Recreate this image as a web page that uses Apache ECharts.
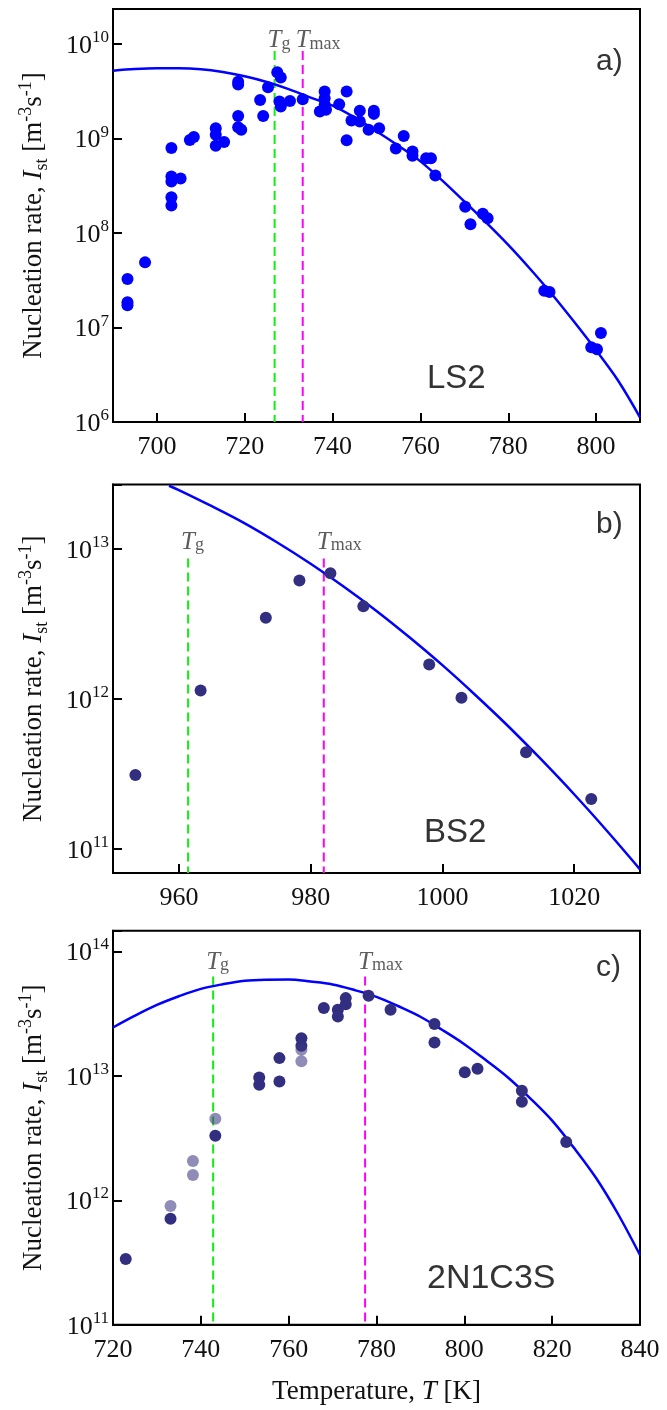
<!DOCTYPE html>
<html>
<head>
<meta charset="utf-8">
<script src="https://cdn.jsdelivr.net/npm/echarts@6/dist/echarts.min.js"></script>
<style>
html,body{margin:0;padding:0;background:#fff;}
#c{width:667px;height:1410px;}
</style>
</head>
<body>
<div id="c"></div>
<script>
// ---------- DATA ----------
// Panel a) LS2 : [T (K), I_st (m^-3 s^-1)]
const lsPoints = [
  [693.3,3.26e7],[693.3,1.85e7],[693.3,1.72e7],[697.3,4.9e7],
  [703.3,2.4e8],[703.3,1.96e8],[703.3,3.97e8],[703.3,3.52e8],[705.4,3.78e8],[703.3,7.95e8],
  [707.5,9.7e8],[708.4,1.04e9],[713.4,1.29e9],[713.4,1.1e9],[715.3,9.2e8],[713.4,8.4e8],
  [718.5,1.74e9],[718.5,1.32e9],[719.2,1.24e9],[718.5,3.75e9],[718.5,4.0e9],
  [723.5,2.57e9],[724.2,1.74e9],[725.3,3.51e9],[727.4,5.06e9],[728.2,4.43e9],
  [727.9,2.47e9],[728.2,2.19e9],[730.3,2.51e9],[733.2,2.62e9],
  [738.2,3.15e9],[738.2,2.68e9],[738.2,2.28e9],[737.1,1.94e9],[738.5,2.02e9],
  [741.5,2.32e9],[743.2,3.15e9],[743.2,9.6e8],[744.3,1.56e9],[746.2,1.98e9],[746.2,1.52e9],
  [748.2,1.24e9],[749.4,1.98e9],[749.4,1.83e9],[750.6,1.29e9],[754.4,7.85e8],[756.2,1.07e9],
  [758.2,7.3e8],[758.2,6.6e8],[761.3,6.2e8],[762.4,6.2e8],[763.4,4.07e8],
  [770.2,1.9e8],[771.4,1.24e8],[774.2,1.6e8],[775.3,1.44e8],
  [788.2,2.45e7],[789.4,2.38e7],[801.1,8.75e6],[798.9,6.2e6],[800.2,5.9e6]
];
const lsCurve = [
  [690,5.25e9],[695,5.46e9],[700,5.56e9],[705,5.56e9],[710,5.43e9],[715,5.07e9],
  [720,4.57e9],[725,3.98e9],[730,3.35e9],[735,2.72e9],[740,2.24e9],[745,1.68e9],
  [750,1.2e9],[755,8.41e8],[760,5.75e8],[765,3.59e8],[770,2.16e8],[775,1.29e8],
  [780,7.5e7],[785,4.17e7],[790,2.24e7],[795,1.15e7],[800,5.75e6],[805,2.75e6],[810,1.12e6]
];
const lsTg = 726.8, lsTmax = 733.2, lsMarkTop = 8.5e9;

// Panel b) BS2
const bsPoints = [
  [953.4,3.11e11],[963.3,1.135e12],[973.2,3.47e12],[978.3,6.15e12],[983,6.87e12],
  [988,4.14e12],[998,1.69e12],[1002.9,1.016e12],[1012.7,4.4e11],[1022.6,2.15e11]
];
const bsCurve = [
  [958.5,2.63e13],[960,2.46e13],[965,1.92e13],[970,1.476e13],[975,1.096e13],[980,7.94e12],
  [985,5.6e12],[990,3.85e12],[995,2.57e12],[1000,1.675e12],[1005,1.06e12],[1010,6.56e11],
  [1015,3.94e11],[1020,2.31e11],[1025,1.315e11],[1030,7.3e10]
];
const bsTg = 961.4, bsTmax = 982.0, bsMarkTop = 8.6e12;

// Panel c) 2N1C3S
const ncPoints = [
  [722.9,3.37e11],[733.1,7.1e11],[743.3,3.3e12],[753.3,9.7e12],[753.3,8.5e12],
  [757.9,1.39e13],[757.9,9.0e12],[762.9,2.01e13],[762.9,1.75e13],[768,3.51e13],
  [771.2,3.4e13],[771.2,3.0e13],[773,4.22e13],[773,3.77e13],[778.2,4.4e13],[783.2,3.4e13],
  [793.2,2.61e13],[793.2,1.86e13],[800.1,1.07e13],[803,1.14e13],[813.1,7.6e12],[813.1,6.2e12],
  [823.2,2.94e12]
];
const ncPointsLight = [
  [733.1,9.0e11],[738.2,2.07e12],[738.2,1.6e12],[743.3,4.52e12],[762.9,1.62e13],[762.9,1.31e13]
];
const ncCurve = [
  [720,2.45e13],[725,3.05e13],[730,3.72e13],[735,4.37e13],[740,5.01e13],[745,5.46e13],
  [750,5.82e13],[755,5.94e13],[760,5.96e13],[765,5.73e13],[770,5.43e13],[775,4.9e13],
  [780,4.32e13],[785,3.63e13],[790,2.99e13],[795,2.34e13],[800,1.8e13],[805,1.33e13],
  [810,9.66e12],[815,6.61e12],[820,4.37e12],[825,2.63e12],[830,1.51e12],[835,7.76e11],[840,3.63e11]
];
const ncTg = 742.8, ncTmax = 777.4, ncMarkTop = 6.3e13;

// axis ranges
const xRanges = [[690,810],[950,1030],[720,840]];
const yRanges = [[1e6,2.36e10],[6.9e10,2.68e13],[1e11,1.47e14]];
const panelTags = ['a)','b)','c)'];
const panelNames = ['LS2','BS2','2N1C3S'];

// ---------- LAYOUT ----------
const gridBoxes = [
  {left:113, top:9, width:527, height:413},
  {left:113, top:484.5, width:527, height:388.5},
  {left:113, top:930.7, width:527, height:394}
];
const SERIF = '"Liberation Serif","Times New Roman",serif';
const SANS = '"Liberation Sans",Arial,sans-serif';
const BLUE = '#0000ff', DARK = '#322e80', LIGHT = 'rgba(60,55,130,0.72)';
const GREEN = '#11ee11', MAGENTA = '#ff00ff';

const chart = echarts.init(document.getElementById('c'), null, {renderer:'canvas'});

const grids = gridBoxes.map(g => Object.assign({show:true, borderColor:'#000', borderWidth:2, containLabel:false}, g));

const xAxes = xRanges.map((r,i) => ({
  type:'value', gridIndex:i, min:r[0], max:r[1], minInterval:20, maxInterval:20,
  axisLine:{show:true, onZero:false, lineStyle:{color:'#000', width:2}},
  axisTick:{show:true, inside:true, length:9, lineStyle:{color:'#000', width:2}},
  splitLine:{show:false},
  axisLabel:{show:true, margin:12, color:'#111', fontFamily:SERIF, fontSize:26,
    formatter: v => (Math.abs(v % 20) < 1e-9 ? String(v) : ''), showMinLabel:true, showMaxLabel:true},
  name: i===2 ? '{n|Temperature, }{i|T}{n| [K]}' : '',
  nameLocation:'middle', nameGap:54,
  nameTextStyle:{rich:{
    n:{fontFamily:SERIF, fontSize:27, color:'#111'},
    i:{fontFamily:SERIF, fontSize:27, fontStyle:'italic', color:'#111'}
  }}
}));

const yName = '{n|Nucleation rate, }{i|I}{sub|st}{n| [m}{sup|-3}{n|s}{sup|-1}{n|]}';
const yAxes = yRanges.map((r,i) => ({
  type:'log', logBase:10, gridIndex:i, min:r[0], max:r[1],
  axisLine:{show:true, onZero:false, lineStyle:{color:'#000', width:2}},
  axisTick:{show:true, inside:true, length:9, lineStyle:{color:'#000', width:2}},
  minorTick:{show:false}, splitLine:{show:false},
  axisLabel:{show:true, margin:4, color:'#111',
    formatter: v => {
      const l = Math.log10(v), e = Math.round(l);
      if (Math.abs(l - e) > 1e-6) return '';
      return '{b|10}{s|' + e + '}';
    },
    rich:{
      b:{fontFamily:SERIF, fontSize:26, color:'#111', lineHeight:30, verticalAlign:'bottom'},
      s:{fontFamily:SERIF, fontSize:17, color:'#111', lineHeight:18, verticalAlign:'top'}
    }
  },
  name: yName, nameLocation:'middle', nameRotate:90, nameGap:62,
  nameTextStyle:{rich:{
    n:{fontFamily:SERIF, fontSize:27, color:'#111', lineHeight:34},
    i:{fontFamily:SERIF, fontSize:27, fontStyle:'italic', color:'#111', lineHeight:34},
    sub:{fontFamily:SERIF, fontSize:18, color:'#111', lineHeight:18, verticalAlign:'bottom'},
    sup:{fontFamily:SERIF, fontSize:18, color:'#111', lineHeight:18, verticalAlign:'top'}
  }}
}));

const panels = [
  {pts:lsPoints, light:[], curve:lsCurve, tg:lsTg, tmax:lsTmax, top:lsMarkTop, color:BLUE, dist:-2},
  {pts:bsPoints, light:[], curve:bsCurve, tg:bsTg, tmax:bsTmax, top:bsMarkTop, color:DARK, dist:4},
  {pts:ncPoints, light:ncPointsLight, curve:ncCurve, tg:ncTg, tmax:ncTmax, top:ncMarkTop, color:DARK, dist:2}
];

const tRich = {
  t:{fontFamily:SERIF, fontSize:25, fontStyle:'italic', color:'#333'},
  s:{fontFamily:SERIF, fontSize:18, color:'#333', verticalAlign:'bottom', lineHeight:20}
};

const series = [];
panels.forEach((p,i) => {
  const ymin = yRanges[i][0];
  series.push({type:'line', xAxisIndex:i, yAxisIndex:i, data:[[p.tg,p.top],[p.tg,ymin]],
    symbol:'none', silent:true, z:1, lineStyle:{color:GREEN, width:2, type:[9,5]}});
  series.push({type:'line', xAxisIndex:i, yAxisIndex:i, data:[[p.tmax,p.top],[p.tmax,ymin]],
    symbol:'none', silent:true, z:1, lineStyle:{color:MAGENTA, width:2, type:[9,5]}});
  series.push({type:'line', xAxisIndex:i, yAxisIndex:i, data:p.curve, smooth:0.35,
    symbol:'none', z:3, lineStyle:{color:BLUE, width:2.5}});
  series.push({type:'scatter', xAxisIndex:i, yAxisIndex:i, data:p.pts, symbol:'circle',
    symbolSize:12, z:4, itemStyle:{color:p.color, opacity:1}});
  if (p.light.length) series.push({type:'scatter', xAxisIndex:i, yAxisIndex:i, data:p.light,
    symbol:'circle', symbolSize:12, z:4, itemStyle:{color:LIGHT}});
  // T_g / T_max labels
  series.push({type:'scatter', xAxisIndex:i, yAxisIndex:i, symbolSize:0, z:5, silent:true,
    data:[
      {value:[p.tg,p.top], label:{formatter:'{t|T}{s|g}'}},
      {value:[p.tmax,p.top], label:{formatter:'{t|T}{s|max}'}}
    ],
    label:{show:true, position:'top', align:'left', distance:p.dist, offset:[-7,0], rich:tRich}
  });
});

const graphics = [];
gridBoxes.forEach((g,i) => {
  graphics.push({type:'text', left: g.left + g.width - 44, top: g.top + [38,25,22][i],
    style:{text:panelTags[i], font:'30px ' + SANS, fill:'#333'}});
  graphics.push({type:'text', left: [427,424,427][i], top: g.top + g.height - [60,57,63][i],
    style:{text:panelNames[i], font:(i===2?'34px ':'33px ') + SANS, fill:'#333'}});
});

chart.setOption({
  animation:false,
  backgroundColor:'#fff',
  grid:grids, xAxis:xAxes, yAxis:yAxes, series:series, graphic:graphics
});
</script>
</body>
</html>
